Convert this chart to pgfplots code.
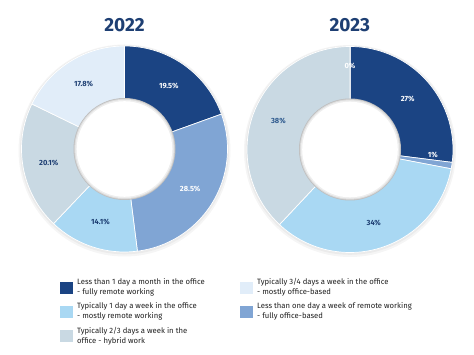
\documentclass[border=0pt]{standalone}
\usepackage{pgfplots}
\pgfplotsset{compat=1.18}
\usepackage{pgfplotstable}
\usepackage{fontspec}
\setmainfont{Fira Sans}
\definecolor{cA}{HTML}{1B4483}
\definecolor{cB}{HTML}{A9D8F3}
\definecolor{cC}{HTML}{C9D9E3}
\definecolor{cD}{HTML}{E1EDF9}
\definecolor{cE}{HTML}{80A5D4}
\definecolor{navy}{HTML}{1E3F73}
\definecolor{midnavy}{HTML}{2E5A8E}

% 2022 shares (clockwise from top)
\pgfplotstableread{
val  col lc      da  lr
19.5 cA  white   0   77
28.5 cE  white   0   77
14.1 cB  navy    0   77
20.1 cC  navy    0   77
17.8 cD  navy    0   77
}\tabA
% 2023 shares (clockwise from top)
\pgfplotstableread{
val  col lc      da  lr
27   cA  white   0   77
1    cE  white   5.2 83
34   cB  navy    0   77
38   cC  midnavy 0   77
0    cD  white   0   83.5
}\tabB

\newcommand\donut[3]{%
  \fill[black!4] (axis cs:#2,#3-1.5) circle[radius=106pt];
  \fill[black!8] (axis cs:#2,#3-0.8) circle[radius=104.5pt];
  \xdef\curang{90}%
  \pgfplotstablegetrowsof{#1}%
  \pgfmathtruncatemacro\nrows{\pgfplotsretval-1}%
  \foreach \i in {0,...,\nrows}{%
    \pgfplotstablegetelem{\i}{val}\of{#1}\let\slval\pgfplotsretval
    \pgfplotstablegetelem{\i}{col}\of{#1}\let\slcol\pgfplotsretval
    \pgfmathsetmacro\aend{\curang-3.6*\slval}%
    \filldraw[fill=\slcol,draw=white,line width=0.7pt,line join=round]
      (axis cs:#2,#3) -- ([shift={(\curang:103pt)}]axis cs:#2,#3)
      arc[start angle=\curang,end angle=\aend,radius=103pt] -- cycle;
    \xdef\curang{\aend}%
  }%
  \fill[gray!50] (axis cs:#2,#3) circle[radius=51pt];
  \fill[gray!28] (axis cs:#2,#3) circle[radius=50.2pt];
  \fill[gray!13] (axis cs:#2,#3) circle[radius=49.2pt];
  \fill[white] (axis cs:#2,#3) circle[radius=47.8pt];
  \xdef\curang{90}%
  \foreach \i in {0,...,\nrows}{%
    \pgfplotstablegetelem{\i}{val}\of{#1}\let\slval\pgfplotsretval
    \pgfplotstablegetelem{\i}{lc}\of{#1}\let\sllc\pgfplotsretval
    \pgfplotstablegetelem{\i}{da}\of{#1}\let\slda\pgfplotsretval
    \pgfplotstablegetelem{\i}{lr}\of{#1}\let\sllr\pgfplotsretval
    \pgfmathsetmacro\amid{\curang-1.8*\slval+\slda}%
    \pgfmathsetmacro\aend{\curang-3.6*\slval}%
    \node[text=\sllc,font=\bfseries\fontsize{7.5}{9}\selectfont]
      at ([shift={(\amid:\sllr pt)}]axis cs:#2,#3) {\slval\%};
    \xdef\curang{\aend}%
  }%
}

\begin{document}
\begin{tikzpicture}
\begin{axis}[x=1pt,y=1pt,xmin=0,xmax=474,ymin=0,ymax=355,
  hide axis,clip=false,scale only axis]
\pgfplotsextra{%
  \path (axis cs:0,0) rectangle (axis cs:474,355);
  \donut{\tabA}{124.5}{206}
  \donut{\tabB}{350}{205.5}
  \node[text=navy,font=\bfseries\fontsize{19}{22}\selectfont] at (axis cs:124.5,329.7) {2022};
  \node[text=navy,font=\bfseries\fontsize{19}{22}\selectfont] at (axis cs:349.7,329.7) {2023};
  % legend
  \fill[cA] (axis cs:60,73) rectangle (axis cs:72.5,61);
  \fill[cB] (axis cs:60,49) rectangle (axis cs:72.5,37);
  \fill[cC] (axis cs:60,25) rectangle (axis cs:72.5,12.5);
  \fill[cD] (axis cs:240,73) rectangle (axis cs:252.5,61);
  \fill[cE] (axis cs:240,49) rectangle (axis cs:252.5,37);
  \begin{scope}[every node/.style={anchor=west,align=left,text=black!88,
      font=\fontsize{7.7}{9.8}\selectfont,inner sep=0pt}]
  \node at (axis cs:77,67.5) {Less than 1 day a month in the office\\- fully remote working};
  \node at (axis cs:77,44) {Typically 1 day a week in the office\\- mostly remote working};
  \node at (axis cs:77,19) {Typically 2/3 days a week in the\\office - hybrid work};
  \node at (axis cs:257,67.5) {Typically 3/4 days a week in the office\\- mostly office-based};
  \node at (axis cs:257,44) {Less than one day a week of remote working\\- fully office-based};
  \end{scope}
}
\end{axis}
\end{tikzpicture}
\end{document}
